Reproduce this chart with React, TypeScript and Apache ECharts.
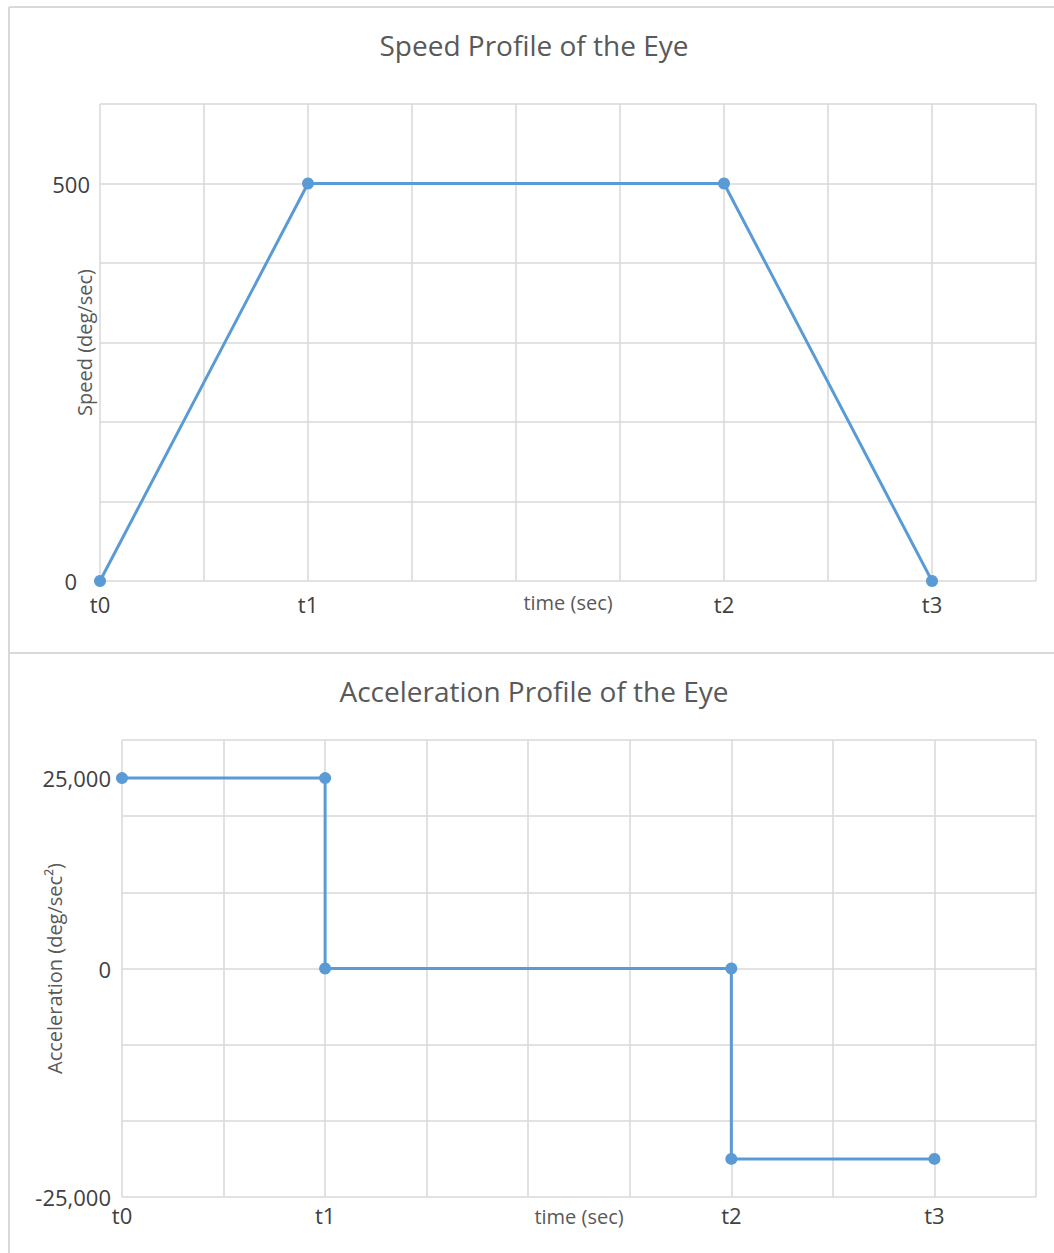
import React, { useEffect, useRef } from "react";
import * as echarts from "echarts";

const timeLabels = ["t0", "t1", "t2", "t3"];
const timeTickValues = [0, 2, 6, 8];
const speedData: [number, number][] = [
  [0, 0],
  [2, 500],
  [6, 500],
  [8, 0],
];
const accelData: [number, number][] = [
  [0, 25000],
  [2, 25000],
  [2, 0],
  [6, 0],
  [6, -25000],
  [8, -25000],
];
const speedLabelValues = [0, 500];
const accelLabelValues = [-30000, 0, 25000];

const FONT = "'Open Sans', 'Noto Sans', sans-serif";
const BLUE = "#5B9BD5";
const GRID = "#d9d9d9";
const TICK = "#404040";
const TITLE = "#595959";

function timeLabel(v: number) {
  const i = timeTickValues.indexOf(v);
  return i >= 0 ? timeLabels[i] : "";
}

export default function App() {
  const ref = useRef<HTMLDivElement>(null);
  useEffect(() => {
    if (!ref.current) return;
    const chart = echarts.init(ref.current, undefined, { renderer: "svg" });
    const xAxisBase = (gridIndex: number, margin: number, gap: number) => ({
      type: "value" as const,
      gridIndex,
      min: 0,
      max: 9,
      interval: 1,
      name: "time (sec)",
      nameLocation: "middle" as const,
      nameGap: gap,
      nameMoveOverlap: false,
      nameTextStyle: { color: TITLE, fontSize: 20, fontFamily: FONT },
      axisLine: { show: false },
      axisTick: { show: false },
      splitLine: { show: true, lineStyle: { color: GRID, width: 1.5 } },
      axisLabel: {
        customValues: timeTickValues,
        formatter: (v: number) => timeLabel(v),
        color: TICK,
        fontSize: 22,
        fontFamily: FONT,
        margin,
      },
    });
    chart.setOption({
      animation: false,
      backgroundColor: "#ffffff",
      grid: [
        { left: 100, top: 104, width: 936, height: 477, outerBoundsMode: "none", containLabel: false },
        { left: 122, top: 740, width: 914, height: 457, outerBoundsMode: "none", containLabel: false },
      ],
      xAxis: [xAxisBase(0, 12, 11), xAxisBase(1, 7, 9)],
      yAxis: [
        {
          type: "value",
          gridIndex: 0,
          min: 0,
          max: 600,
          interval: 100,
          name: "Speed (deg/sec)",
          nameLocation: "middle",
          nameRotate: 90,
          nameGap: 6,
          nameMoveOverlap: false,
          nameTextStyle: { color: TITLE, fontSize: 20, fontFamily: FONT },
          axisLine: { show: false },
          axisTick: { show: false },
          splitLine: { show: true, lineStyle: { color: GRID, width: 1.5 } },
          axisLabel: {
            customValues: speedLabelValues,
            formatter: (v: number) => (v === 0 ? "{z|0}" : String(v)),
            rich: { z: { fontSize: 22, fontFamily: FONT, color: TICK, padding: [0, 13, 0, 0] } },
            color: TICK,
            fontSize: 22,
            fontFamily: FONT,
            margin: 10,
          },
        },
        {
          type: "value",
          gridIndex: 1,
          min: -30000,
          max: 30000,
          interval: 10000,
          name: "Acceleration (deg/sec²)",
          nameLocation: "middle",
          nameRotate: 90,
          nameGap: 58,
          nameMoveOverlap: false,
          nameTextStyle: { color: TITLE, fontSize: 20, fontFamily: FONT },
          axisLine: { show: false },
          axisTick: { show: false },
          splitLine: { show: true, lineStyle: { color: GRID, width: 1.5 } },
          axisLabel: {
            customValues: accelLabelValues,
            formatter: (v: number) =>
              v === -30000 ? "-25,000" : v === 0 ? "0" : v.toLocaleString("en-US"),
            color: TICK,
            fontSize: 22,
            fontFamily: FONT,
            margin: 11,
          },
        },
      ],
      series: [
        {
          type: "line",
          xAxisIndex: 0,
          yAxisIndex: 0,
          data: speedData,
          symbol: "circle",
          symbolSize: 12,
          lineStyle: { color: BLUE, width: 3 },
          itemStyle: { color: BLUE },
        },
        {
          type: "line",
          xAxisIndex: 1,
          yAxisIndex: 1,
          data: accelData,
          symbol: "circle",
          symbolSize: 12,
          lineStyle: { color: BLUE, width: 3 },
          itemStyle: { color: BLUE },
        },
      ],
      graphic: [
        { type: "line", shape: { x1: 9, y1: 7, x2: 1054, y2: 7 }, style: { stroke: GRID, lineWidth: 2 } },
        { type: "line", shape: { x1: 9, y1: 7, x2: 9, y2: 1253 }, style: { stroke: GRID, lineWidth: 2 } },
        { type: "line", shape: { x1: 9, y1: 653, x2: 1054, y2: 653 }, style: { stroke: GRID, lineWidth: 2 } },
        {
          type: "text",
          x: 534,
          y: 45,
          style: {
            text: "Speed Profile of the Eye",
            align: "center",
            verticalAlign: "middle",
            fill: TITLE,
            fontSize: 28,
            fontFamily: FONT,
          },
        },
        {
          type: "text",
          x: 534,
          y: 691,
          style: {
            text: "Acceleration Profile of the Eye",
            align: "center",
            verticalAlign: "middle",
            fill: TITLE,
            fontSize: 28,
            fontFamily: FONT,
          },
        },
      ],
    });
    return () => chart.dispose();
  }, []);
  return (
    <div
      ref={ref}
      style={{ position: "absolute", left: 0, top: 0, width: 1054, height: 1253 }}
    />
  );
}
